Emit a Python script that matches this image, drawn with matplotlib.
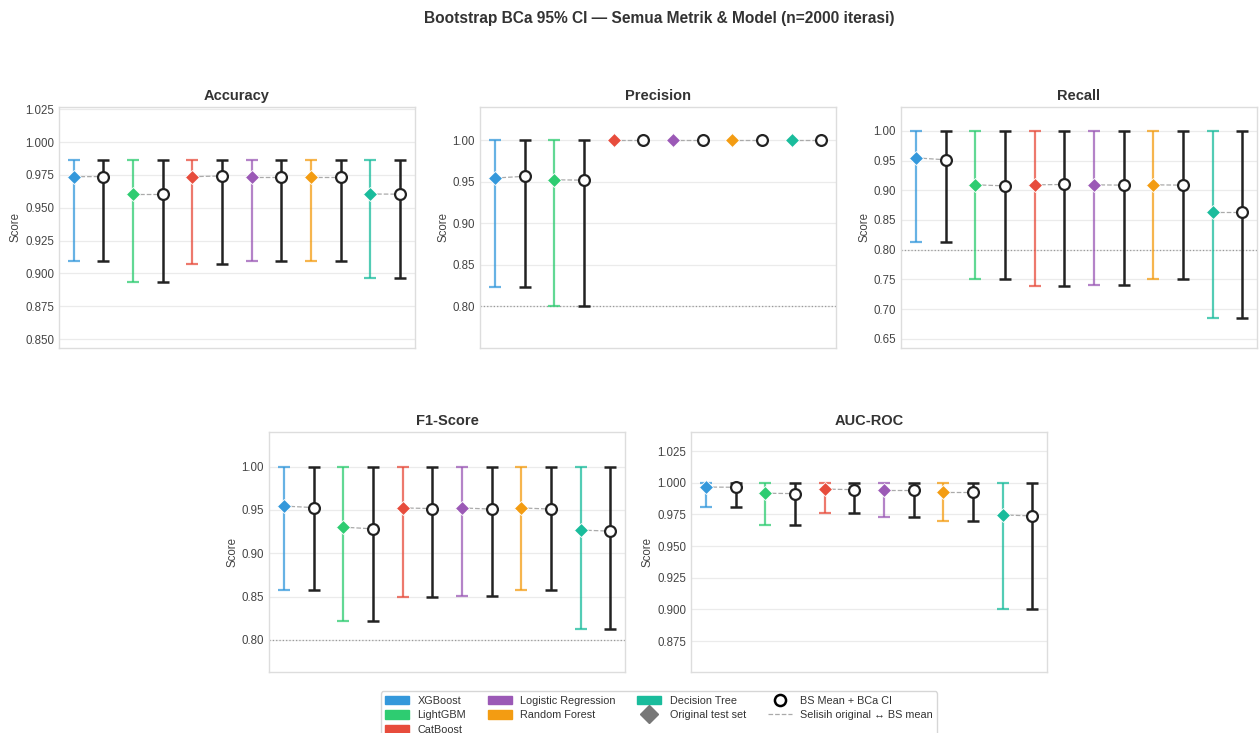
import matplotlib
matplotlib.use("Agg")
import numpy as np
import matplotlib.pyplot as plt
import matplotlib.patches as mpatches
from matplotlib.lines import Line2D
from matplotlib.ticker import FormatStrFormatter

plt.rcParams['font.family'] = ['Liberation Sans', 'DejaVu Sans']

models = ["XGBoost", "LightGBM", "CatBoost", "Logistic Regression", "Random Forest", "Decision Tree"]
colors = ["#3498db", "#2ecc71", "#e74c3c", "#9b59b6", "#f39c12", "#1abc9c"]
metrics = ["Accuracy", "Precision", "Recall", "F1-Score", "AUC-ROC"]

# original test-set score per model
orig_accuracy = [0.9737, 0.9605, 0.9737, 0.9737, 0.9737, 0.9605]
orig_precision = [0.9545, 0.9524, 1.0, 1.0, 1.0, 1.0]
orig_recall = [0.9545, 0.9091, 0.9091, 0.9091, 0.9091, 0.8636]
orig_f1 = [0.9545, 0.9302, 0.9524, 0.9524, 0.9524, 0.9268]
orig_auc = [0.9966, 0.9917, 0.9950, 0.9940, 0.9925, 0.9746]

# bootstrap mean per model
bs_accuracy = [0.9738, 0.9605, 0.9743, 0.9737, 0.9737, 0.9604]
bs_precision = [0.9566, 0.9520, 1.0, 1.0, 1.0, 1.0]
bs_recall = [0.9512, 0.9074, 0.9097, 0.9086, 0.9086, 0.8636]
bs_f1 = [0.9528, 0.9282, 0.9516, 0.9510, 0.9510, 0.9256]
bs_auc = [0.9964, 0.9914, 0.9945, 0.9940, 0.9925, 0.9738]

# BCa 95% CI bounds
lo_accuracy = [0.9091, 0.8932, 0.9074, 0.9091, 0.9091, 0.8966]
hi_accuracy = [0.9868, 0.9868, 0.9868, 0.9868, 0.9868, 0.9868]
lo_precision = [0.8233, 0.8000, 1.0, 1.0, 1.0, 1.0]
hi_precision = [1.0, 1.0, 1.0, 1.0, 1.0, 1.0]
lo_recall = [0.8131, 0.7500, 0.7390, 0.7400, 0.7500, 0.6847]
hi_recall = [1.0, 1.0, 1.0, 1.0, 1.0, 1.0]
lo_f1 = [0.8580, 0.8214, 0.8499, 0.8507, 0.8580, 0.8130]
hi_f1 = [1.0, 1.0, 1.0, 1.0, 1.0, 1.0]
lo_auc = [0.9811, 0.9665, 0.9760, 0.9728, 0.9697, 0.9007]
hi_auc = [1.0, 1.0, 1.0, 1.0, 1.0, 1.0]

orig_all = [orig_accuracy, orig_precision, orig_recall, orig_f1, orig_auc]
bs_all = [bs_accuracy, bs_precision, bs_recall, bs_f1, bs_auc]
lo_all = [lo_accuracy, lo_precision, lo_recall, lo_f1, lo_auc]
hi_all = [hi_accuracy, hi_precision, hi_recall, hi_f1, hi_auc]
tick_steps = [0.025, 0.05, 0.05, 0.05, 0.025]
tick_fmts = ["%.3f", "%.2f", "%.2f", "%.2f", "%.3f"]

W, H = 1259, 733
fig = plt.figure(figsize=(W / 100, H / 100), dpi=100)
fig.patch.set_facecolor("white")

# panel boxes in pixels: left, top, width, height
boxes = [(59, 107, 356, 241), (480, 107, 356, 241), (901, 107, 356, 241),
         (269, 432, 356, 240), (691, 432, 356, 240)]

text_col = "#333333"
off = 0.25
cx = 659 / W

for k, metric in enumerate(metrics):
    l, t, w, h = boxes[k]
    ax = fig.add_axes([l / W, 1 - (t + h) / H, w / W, h / H])
    ax.set_facecolor("white")
    for s in ax.spines.values():
        s.set_color("#dddddd")
        s.set_linewidth(1.0)
    ax.grid(axis="y", color="#ebebeb", linewidth=0.9, zorder=0)
    ax.set_axisbelow(True)

    orig, bs, lo, hi = orig_all[k], bs_all[k], lo_all[k], hi_all[k]
    for i, (m, c) in enumerate(zip(models, colors)):
        xo, xb = i - off, i + off
        if hi[i] > lo[i]:
            ax.errorbar([xo], [orig[i]], yerr=[[orig[i] - lo[i]], [hi[i] - orig[i]]],
                        fmt="none", ecolor=c, elinewidth=1.6, capsize=4.5, capthick=1.6,
                        alpha=0.75, zorder=2)
            ax.errorbar([xb], [bs[i]], yerr=[[bs[i] - lo[i]], [hi[i] - bs[i]]],
                        fmt="none", ecolor="#222222", elinewidth=1.8, capsize=4.5,
                        capthick=1.8, zorder=2)
        ax.plot([xo, xb], [orig[i], bs[i]], color="#aaaaaa", linestyle="--",
                linewidth=0.9, zorder=1)
        ax.plot([xo], [orig[i]], marker="D", markersize=7, color=c,
                markeredgecolor="white", markeredgewidth=0.6, linestyle="none", zorder=4)
        ax.plot([xb], [bs[i]], marker="o", markersize=7.8, markerfacecolor="white",
                markeredgecolor="#222222", markeredgewidth=1.6, linestyle="none", zorder=4)

    ax.axhline(0.80, color="#999999", linestyle=":", linewidth=0.9, zorder=1)
    ax.set_xlim(-0.5, 5.5)
    y0, y1 = min(lo) - 0.05, max(hi) + 0.04
    ax.set_ylim(y0, y1)
    step = tick_steps[k]
    ticks = np.arange(np.ceil(y0 / step + 1e-6) * step, y1, step)
    ax.set_yticks(ticks)
    ax.yaxis.set_major_formatter(FormatStrFormatter(tick_fmts[k]))
    ax.set_xticks([])
    ax.tick_params(axis="y", length=0, labelsize=8.3, labelcolor="#444444", pad=3.5)
    ax.set_ylabel("Score", fontsize=8.3, color="#444444", labelpad=2.5)
    ax.set_title(metric, fontsize=10.5, fontweight="bold", color=text_col, pad=5)

fig.text(cx, 1 - 19 / H, "Bootstrap BCa 95% CI — Semua Metrik & Model (n=2000 iterasi)",
         fontsize=11.2, fontweight="bold", color=text_col, ha="center", va="center")

handles = [mpatches.Patch(color=c, label=m) for m, c in zip(models, colors)]
handles.append(Line2D([], [], marker="D", color="#777777", markersize=9, linestyle="none",
                      label="Original test set"))
handles.append(Line2D([], [], marker="o", markerfacecolor="white", markeredgecolor="black",
                      markeredgewidth=1.8, markersize=8, linestyle="none",
                      label="BS Mean + BCa CI"))
handles.append(Line2D([], [], color="#aaaaaa", linestyle="--", linewidth=0.9,
                      label="Selisih original ↔ BS mean"))
leg = fig.legend(handles=handles, loc="upper center", bbox_to_anchor=(cx, 1 - 686 / H),
                 ncol=4, fontsize=7.8, frameon=True, fancybox=True, edgecolor="#cccccc",
                 handlelength=2.2, handleheight=0.8, columnspacing=2.0, labelspacing=0.42,
                 borderpad=0.4)
for txt in leg.get_texts():
    txt.set_color(text_col)

fig.savefig("out.png", dpi=100, facecolor="white")
